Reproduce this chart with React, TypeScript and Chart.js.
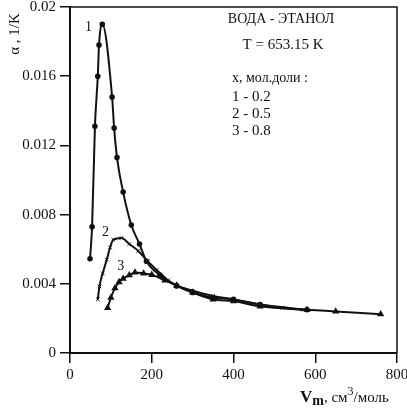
import React, { useEffect, useRef } from "react";
import { Chart, registerables } from "chart.js";

Chart.register(...registerables);

// Curve 1: x = 0.2
const c1X = [49, 54, 61, 68, 71, 79, 103, 108, 115, 130, 150, 170, 187, 220, 261, 300, 350, 400, 465, 580];
const c1Y = [0.00545, 0.0073, 0.0131, 0.016, 0.0178, 0.019, 0.0148, 0.013, 0.0113, 0.0093, 0.0074, 0.0063, 0.0053, 0.0045, 0.00388, 0.0035, 0.0032, 0.0031, 0.0028, 0.0025];
// Curve 2: x = 0.5
const c2X = [68, 72, 80, 90, 98, 106, 126, 145, 167, 190, 212, 240, 261, 300, 350, 400, 465, 520, 570];
const c2Y = [0.0031, 0.00385, 0.0046, 0.0054, 0.0061, 0.00655, 0.00665, 0.0063, 0.0059, 0.0053, 0.0048, 0.0042, 0.0039, 0.0036, 0.0033, 0.0031, 0.0028, 0.0026, 0.0025];
// Curve 3: x = 0.8
const c3X = [92, 100, 110, 120, 130, 145, 159, 180, 200, 232, 261, 300, 350, 400, 465, 580, 650, 760];
const c3Y = [0.0026, 0.0032, 0.00375, 0.0041, 0.0043, 0.0045, 0.00466, 0.0046, 0.00452, 0.0042, 0.0039, 0.0035, 0.0031, 0.003, 0.0027, 0.0025, 0.0024, 0.00224];

const xTicks = [0, 200, 400, 600, 800];
const yTicks = [0, 0.004, 0.008, 0.012, 0.016, 0.02];

const curveLabels = ["1", "2", "3"];
const legendTitle = "ВОДА - ЭТАНОЛ";
const legendTemp = "T = 653.15 K";
const legendHead = "x, мол.доли :";
const legendItems = ["1 - 0.2", "2 - 0.5", "3 - 0.8"];

const SERIF = '"Liberation Serif", "DejaVu Serif", serif';

function pts(xs: number[], ys: number[]) {
  return xs.map((x, i) => ({ x, y: ys[i] }));
}

const textPlugin = {
  id: "texts",
  afterDraw(chart: any) {
    const ctx = chart.ctx as CanvasRenderingContext2D;
    const a = chart.chartArea;
    const xs = chart.scales.x;
    const ys = chart.scales.y;
    ctx.save();
    // top and right frame
    ctx.strokeStyle = "#111";
    ctx.lineWidth = 1.5;
    ctx.beginPath();
    ctx.moveTo(a.left, a.top);
    ctx.lineTo(a.right, a.top);
    ctx.lineTo(a.right, a.bottom);
    ctx.stroke();

    ctx.fillStyle = "#111";
    ctx.textBaseline = "middle";
    // curve labels
    ctx.font = `14px ${SERIF}`;
    ctx.textAlign = "center";
    ctx.fillText(curveLabels[0], xs.getPixelForValue(45), ys.getPixelForValue(0.0188));
    ctx.fillText(curveLabels[1], xs.getPixelForValue(87), ys.getPixelForValue(0.0070));
    ctx.fillText(curveLabels[2], xs.getPixelForValue(124), ys.getPixelForValue(0.0050));

    // legend block
    ctx.font = `14px ${SERIF}`;
    ctx.fillText(legendTitle, 281, 19);
    ctx.font = `15px ${SERIF}`;
    ctx.fillText(legendTemp, 283, 45);
    ctx.textAlign = "left";
    ctx.font = `14px ${SERIF}`;
    ctx.fillText(legendHead, 232, 78);
    ctx.font = `15px ${SERIF}`;
    legendItems.forEach((t, i) => ctx.fillText(t, 232, 97 + i * 17));

    // y title
    ctx.save();
    ctx.translate(15, 34);
    ctx.rotate(-Math.PI / 2);
    ctx.textAlign = "center";
    ctx.font = `15px ${SERIF}`;
    ctx.fillText("α , 1/K", 0, 0);
    ctx.restore();

    // x title
    ctx.textAlign = "left";
    ctx.textBaseline = "alphabetic";
    let x = 300;
    const base = 402;
    ctx.font = `bold 17px ${SERIF}`;
    ctx.fillText("V", x, base);
    x += ctx.measureText("V").width;
    ctx.font = `bold 14px ${SERIF}`;
    ctx.fillText("m", x, base + 3);
    x += ctx.measureText("m").width;
    ctx.font = `15px ${SERIF}`;
    ctx.fillText(", см", x, base);
    x += ctx.measureText(", см").width;
    ctx.font = `12px ${SERIF}`;
    ctx.fillText("3", x, base - 7);
    x += ctx.measureText("3").width;
    ctx.font = `15px ${SERIF}`;
    ctx.fillText("/моль", x, base);
    ctx.restore();
  },
};

export default function App() {
  const ref = useRef<HTMLCanvasElement | null>(null);
  useEffect(() => {
    document.body.style.margin = "0";
    const canvas = ref.current;
    if (!canvas) return;
    const common = {
      borderColor: "#111",
      backgroundColor: "#111",
      pointBackgroundColor: "#111",
      pointBorderColor: "#111",
      borderWidth: 2,
      cubicInterpolationMode: "monotone" as const,
      fill: false,
    };
    const chart = new Chart(canvas, {
      type: "line",
      data: {
        datasets: [
          { ...common, label: "1", data: pts(c1X, c1Y), pointStyle: "circle", pointRadius: 1.8 },
          { ...common, label: "2", data: pts(c2X, c2Y), pointStyle: "crossRot", pointRadius: 2.5, pointBorderWidth: 1 },
          { ...common, label: "3", data: pts(c3X, c3Y), pointStyle: "triangle", pointRadius: 2.2 },
        ],
      },
      options: {
        animation: false,
        responsive: false,
        events: [],
        layout: { padding: { top: 7, right: 10, left: 0, bottom: 0 } },
        plugins: { legend: { display: false }, tooltip: { enabled: false } },
        scales: {
          x: {
            type: "linear",
            min: 0,
            max: 800,
            afterBuildTicks: (s: any) => {
              s.ticks = xTicks.map((v) => ({ value: v }));
            },
            afterFit: (s: any) => {
              s.height = 58;
              s.paddingLeft = 0;
              s.paddingRight = 0;
            },
            grid: { drawOnChartArea: false, drawTicks: true, tickLength: 10, color: "#111", lineWidth: 1.5 },
            border: { display: true, color: "#111", width: 2 },
            ticks: {
              color: "#111",
              padding: 3,
              maxRotation: 0,
              font: { family: SERIF, size: 15 },
              callback: (v: any) => String(v),
            },
          },
          y: {
            type: "linear",
            min: 0,
            max: 0.02,
            afterBuildTicks: (s: any) => {
              s.ticks = yTicks.map((v) => ({ value: v }));
            },
            afterFit: (s: any) => {
              s.width = 70;
              s.paddingTop = 0;
              s.paddingBottom = 0;
            },
            grid: { drawOnChartArea: false, drawTicks: true, tickLength: 10, color: "#111", lineWidth: 1.5 },
            border: { display: true, color: "#111", width: 2 },
            ticks: {
              color: "#111",
              padding: 4,
              font: { family: SERIF, size: 15 },
              callback: (v: any) => (v === 0 ? "0" : String(parseFloat(Number(v).toFixed(3)))),
            },
          },
        },
      },
      plugins: [textPlugin],
    });
    return () => chart.destroy();
  }, []);
  return (
    <div style={{ width: 407, height: 411, background: "#fff" }}>
      <canvas ref={ref} width={407} height={411} style={{ display: "block" }} />
    </div>
  );
}
